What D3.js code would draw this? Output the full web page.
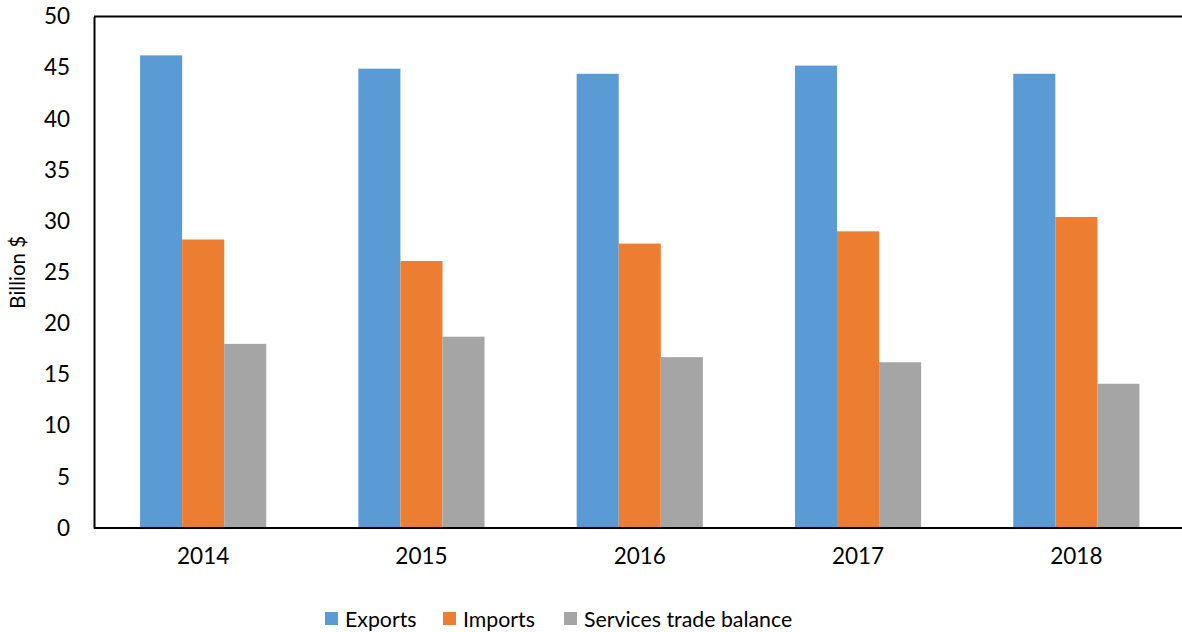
<!DOCTYPE html>
<html><head><meta charset="utf-8">
<script src="https://cdn.jsdelivr.net/npm/d3@7"></script>
<style>body{margin:0;background:#fff}svg{display:block}</style>
</head><body>
<svg id="c" width="1182" height="632"></svg>
<script>
const categories = ["2014","2015","2016","2017","2018"];
const seriesNames = ["Exports","Imports","Services trade balance"];
const exportsVals = [46.2,44.9,44.4,45.2,44.4];
const importsVals = [28.2,26.1,27.8,29.0,30.4];
const balanceVals = [18.0,18.7,16.7,16.2,14.1];
const yTicks = [0,5,10,15,20,25,30,35,40,45,50];
const colors = ["#5b9bd5","#ed7d31","#a5a5a5"];

const series = [exportsVals, importsVals, balanceVals];
const svg = d3.select("#c");
const font = "Lato, 'Open Sans', sans-serif";
const m = {left:94, right:1185.5, top:16.5, bottom:528};

const x0 = d3.scaleBand().domain(categories).range([m.left, m.right]).paddingInner(0.422).paddingOuter(0.211);
const x1 = d3.scaleBand().domain(d3.range(3)).range([0, x0.bandwidth()]);
const y = d3.scaleLinear().domain([0,50]).range([m.bottom, m.top]);

const g = svg.append("g");
categories.forEach((c,i)=>{
  series.forEach((s,j)=>{
    g.append("rect").attr("x", x0(c)+x1(j)).attr("width", x1.bandwidth())
      .attr("y", y(s[i])).attr("height", y(0)-y(s[i])).attr("fill", colors[j]);
  });
});

// frame
svg.append("line").attr("x1",m.left).attr("x2",1182).attr("y1",y(50)).attr("y2",y(50)).attr("stroke","#000").attr("stroke-width",2);

const yAxis = svg.append("g").attr("transform",`translate(${m.left},0)`)
  .call(d3.axisLeft(y).tickValues(yTicks).tickSize(0).tickPadding(24));
yAxis.select(".domain").attr("stroke","#000").attr("stroke-width",2);
yAxis.selectAll("text").attr("font-family",font).attr("font-size",22.5).attr("fill","#000");

const xAxis = svg.append("g").attr("transform",`translate(0,${m.bottom})`)
  .call(d3.axisBottom(x0).tickSize(0).tickPadding(20));
xAxis.select(".domain").attr("stroke","#000").attr("stroke-width",2).attr("d",`M${m.left},0H1182`);
xAxis.selectAll("text").attr("font-family",font).attr("font-size",22.5).attr("fill","#000");

svg.append("text").attr("transform",`translate(25,${(m.top+m.bottom)/2}) rotate(-90)`)
  .attr("text-anchor","middle").attr("font-family",font).attr("font-size",20.5).attr("fill","#000").text("Billion $");

// legend
const legX = [325, 443, 564];
seriesNames.forEach((n,j)=>{
  svg.append("rect").attr("x",legX[j]).attr("y",612).attr("width",13).attr("height",13).attr("fill",colors[j]);
  svg.append("text").attr("x",legX[j]+20).attr("y",626.5).attr("font-family",font).attr("font-size",21.3).attr("fill","#000").text(n);
});
</script>
</body></html>
